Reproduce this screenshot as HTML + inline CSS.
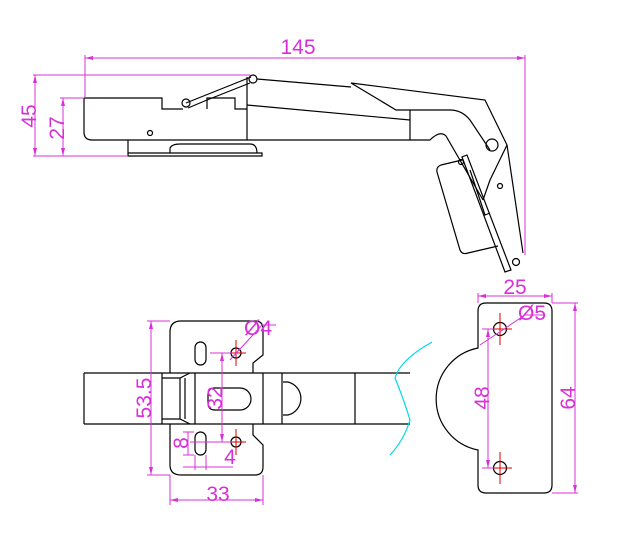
<!DOCTYPE html>
<html><head><style>html,body{margin:0;padding:0;background:#fff}svg{display:block}</style></head><body>
<svg width="625" height="548" viewBox="0 0 625 548" xmlns="http://www.w3.org/2000/svg" font-family="Liberation Sans, sans-serif">
<g fill="none" stroke="#000" stroke-width="1.2">
<path d="M84,98 H162 V109 H183 M207,109 V98 H235 V109 H247 M247,77 V140 H92 Q84,140 84,132 V98"/>
<circle cx="150" cy="133" r="2.5"/>
<path d="M186,103 L251,77 M188,108 L207,100 L250,83"/>
<circle cx="186" cy="103" r="4"/><circle cx="253" cy="79" r="4"/>
<path d="M128,140 V153 H262 V156 H128 V153 M170,153 V148 Q172,144 180,144 H250 Q257,144 257,153"/>
<path d="M257,79 L351,87 M351,83 L485,100 L507,145 L523,253 M351,83 L396,110 H450 Q462,110 470,120 L490,150"/>
<path d="M247,105 L410,120 M410,110 V140 M247,140 H430 Q440,130 446,136 L483,200"/>
<path d="M483,200 L490,180 L507,145"/>
<circle cx="492" cy="145" r="6"/>
<circle cx="500" cy="186" r="2.5"/>
<path d="M462,160 L441,165 Q436,167 437,172 L460,250 Q462,255 468,253 L498,246"/>
<path d="M462,157 L505,272 L511,270 L467,155 Z M470,170 L485,215 L490,213"/>
<circle cx="461" cy="162" r="2.5"/>
<circle cx="516" cy="262" r="3.5"/>
<path d="M84,373 H410 M84,424 H410 M84,373 V424 M162,373 V424 M195,373 V424 M263,373 V424 M282,373 V424 M355,373 V424"/>
<path d="M162,378 H180 L190,373 M162,419 H180 L190,424 M180,378 V419 M185,378 V419"/>
<path d="M170,373 V332 Q170,321 181,321 H255 Q263,321 263,329 V355 L253,363 V373 M170,424 V465 Q170,475 181,475 H255 Q263,475 263,467 V445 L253,435 V424"/>
<rect x="195" y="342" width="11" height="23" rx="5.5"/>
<rect x="195" y="432" width="11" height="23" rx="5.5"/>
<path d="M215,388 H240 A11,11 0 0 1 240,410 H215 Q208,410 208,403 V395 Q208,388 215,388"/>
<path d="M283,382 H288 A17,17 0 0 1 288,415 H283"/>
<circle cx="236" cy="353" r="5"/><circle cx="236" cy="442" r="5"/>
<path d="M486,303 H544 Q552,303 552,311 V485 Q552,493 544,493 H486 Q478,493 478,485 V450 A52,52 0 0 1 478,348 V311 Q478,303 486,303"/>
<circle cx="500" cy="329" r="6.5"/><circle cx="500" cy="468" r="6.5"/>
</g>
<g stroke="#e00000" stroke-width="1">
<path d="M226,353 H246 M236,340 V366 M226,442 H246 M236,429 V455 M488,329 H512 M500,313 V345 M488,468 H512 M500,452 V484"/>
</g>
<path d="M432,342 Q400,360 395,378 Q404,400 410,420 Q404,440 390,455" fill="none" stroke="#00d8e0" stroke-width="1.2"/>
<g stroke="#d830d8" stroke-width="1" fill="none">
<path d="M85,58 H525 M85,55 V98 M525,55 V255 M33,75 H250 M35,75 V156 M33,156 H128 M60,98 H84 M63,98 V156"/>
<path d="M151,321 V475 M147,321 H170 M147,475 H170 M170,475 V505 M263,475 V505 M170,500 H263 M222,353 V442 M210,353 H232 M190,442 H232 M188,432 V455 M183,432 H194 M183,455 H194 M183,467 H233 M195,455 V470 M206,455 V470 M230,360 L262,325 H276"/>
<path d="M478,296 H552 M478,293 V303 M552,293 V303 M552,303 H578 M552,493 H578 M575,303 V493 M488,329 V468 M482,329 H494 M482,468 H494 M480,345 L525,315 H545"/>
</g>
<g fill="#d830d8">
<path d="M85,58 l8,-2 v4z M525,58 l-8,-2 v4z M35,75 l-2,8 h4z M35,156 l-2,-8 h4z M63,98 l-2,8 h4z M63,156 l-2,-8 h4z M151,321 l-2,8 h4z M151,475 l-2,-8 h4z M170,500 l8,-2 v4z M263,500 l-8,-2 v4z M222,353 l-2,8 h4z M222,442 l-2,-8 h4z M575,303 l-2,8 h4z M575,493 l-2,-8 h4z M488,329 l-2,8 h4z M488,468 l-2,-8 h4z M478,296 l8,-2 v4z M552,296 l-8,-2 v4z"/>
</g>
<g fill="#d830d8" font-size="21" text-anchor="middle">
<text x="298" y="54">145</text>
<text transform="translate(36,116) rotate(-90)">45</text>
<text transform="translate(64,128) rotate(-90)">27</text>
<text transform="translate(151,398) rotate(-90)">53.5</text>
<text transform="translate(222,398) rotate(-90)">32</text>
<text transform="translate(188,443) rotate(-90)">8</text>
<text x="230" y="464">4</text>
<text x="218" y="501">33</text>
<text x="258" y="335">Ø4</text>
<text x="515" y="294">25</text>
<text x="532" y="320">Ø5</text>
<text transform="translate(489,398) rotate(-90)">48</text>
<text transform="translate(575,398) rotate(-90)">64</text>
</g>
</svg>
</body></html>
